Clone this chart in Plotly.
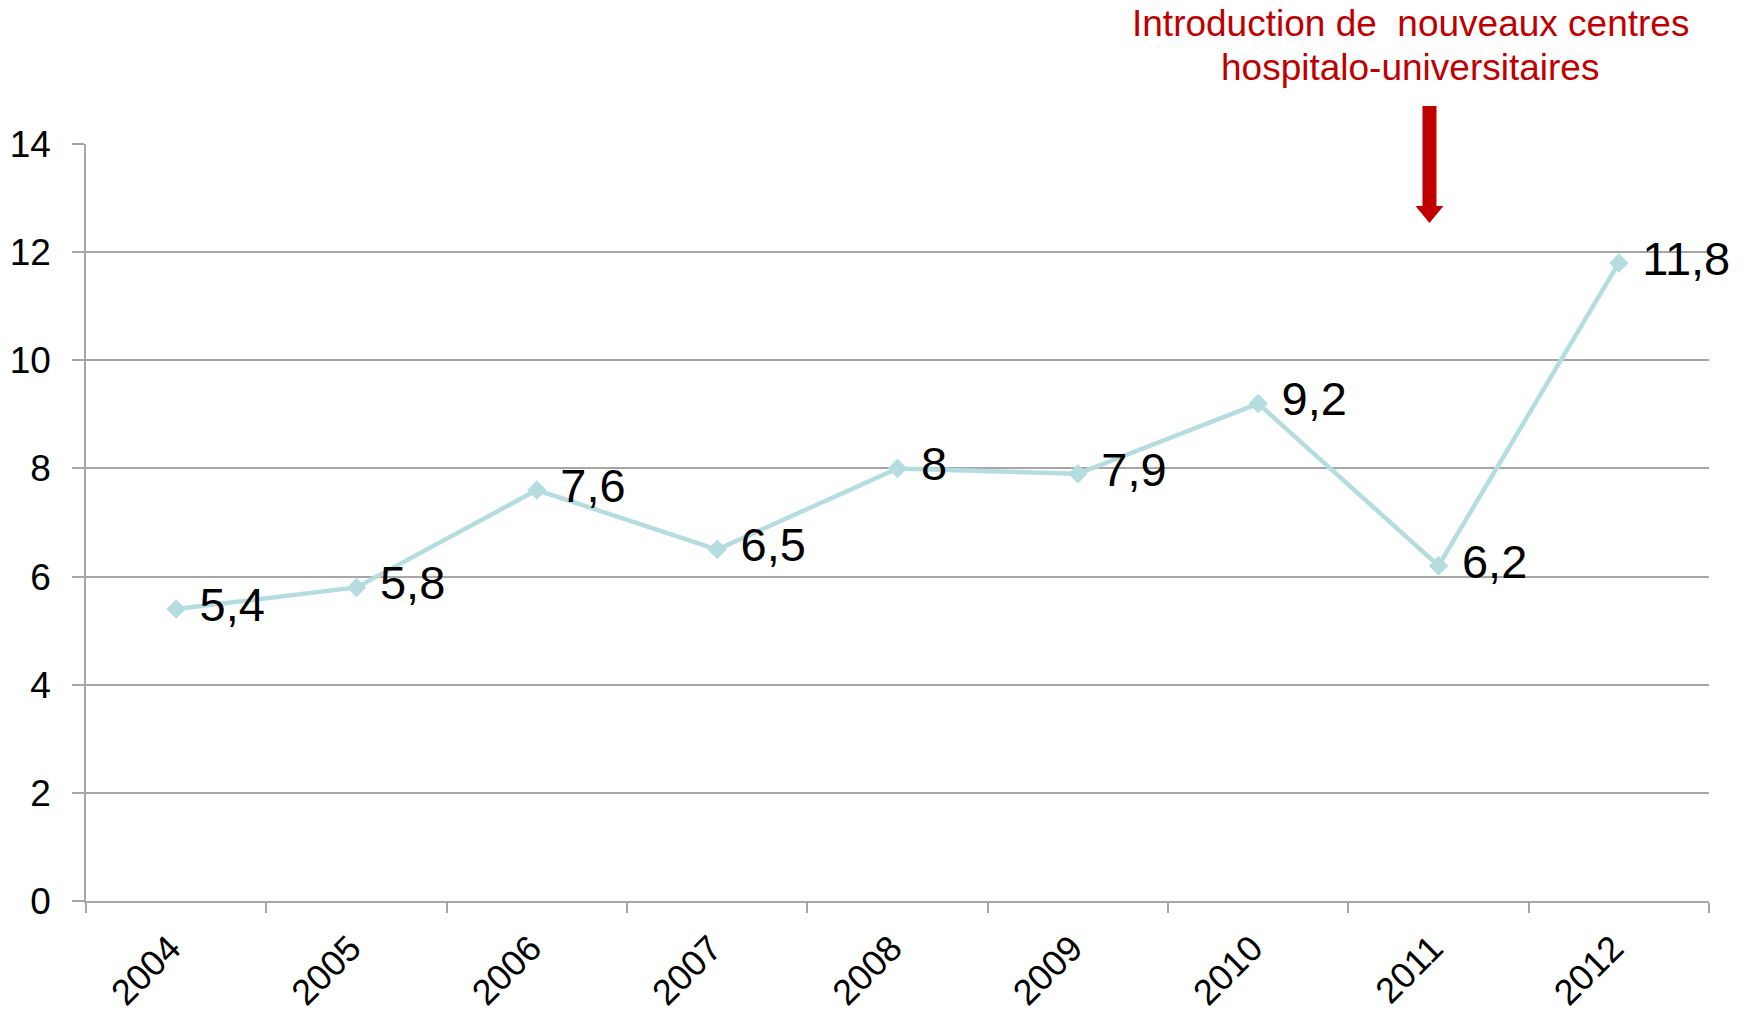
import plotly.graph_objects as go

years = ["2004", "2005", "2006", "2007", "2008", "2009", "2010", "2011", "2012"]
values = [5.4, 5.8, 7.6, 6.5, 8.0, 7.9, 9.2, 6.2, 11.8]
labels = ["\u00a0" + ("%g" % v).replace(".", ",") for v in values]
y_ticks = [0, 2, 4, 6, 8, 10, 12, 14]
note_lines = ["Introduction de  nouveaux centres", "hospitalo-universitaires"]

# arrow marker (decoration): category position and tip value
arrow_x = 6.95
arrow_tip = 12.54
y_max = 14

line_color = "#b5dde0"
grid_color = "#a6a6a6"
red = "#c00000"
font_family = "Liberation Sans, Arial, sans-serif"

fig = go.Figure()
fig.add_trace(go.Scatter(
    x=years, y=values, mode="lines+markers+text",
    line=dict(color=line_color, width=4.5),
    marker=dict(symbol="diamond", size=15, color=line_color),
    text=labels, textposition="middle right",
    textfont=dict(size=47, color="#000000", family=font_family),
    cliponaxis=False, showlegend=False, hoverinfo="skip",
))

# arrow: shaft + head, in pixel units anchored at the tip (paper y so it is not clipped)
tip_paper = arrow_tip / y_max
fig.add_shape(
    type="rect", xref="x", yref="paper",
    xsizemode="pixel", ysizemode="pixel",
    xanchor=arrow_x, yanchor=tip_paper,
    x0=-7, x1=7, y0=15, y1=117,
    fillcolor=red, line=dict(width=0), layer="above",
)
fig.add_shape(
    type="path", xref="x", yref="paper",
    xsizemode="pixel", ysizemode="pixel",
    xanchor=arrow_x, yanchor=tip_paper,
    path="M-14,17 L14,17 L0,0 Z",
    fillcolor=red, line=dict(width=0), layer="above",
)

for line_text, ypos in zip(note_lines, [1.1595, 1.1004]):
    fig.add_annotation(
        x=0.816, y=ypos, xref="paper", yref="paper",
        xanchor="center", yanchor="middle", showarrow=False,
        text=line_text,
        font=dict(size=37, color=red, family=font_family),
    )

fig.update_layout(
    width=1748, height=1017,
    margin=dict(l=78, r=47, t=136, b=124, autoexpand=False),
    paper_bgcolor="white", plot_bgcolor="white",
    font=dict(family=font_family, color="#000000"),
    xaxis=dict(
        type="category", tickson="boundaries", ticks="outside", ticklen=10,
        tickcolor=grid_color, tickwidth=1.5, showgrid=False,
        showline=True, linecolor=grid_color, linewidth=1.5,
        tickangle=-45, tickfont=dict(size=36, family=font_family),
        ticklabelstandoff=10, ticklabelshift=-6,
        range=[-0.5, 8.5], automargin=False,
    ),
    yaxis=dict(
        range=[0, y_max], tickvals=y_ticks, ticks="outside", ticklen=12,
        tickcolor=grid_color, tickwidth=1.5,
        showgrid=True, gridcolor=grid_color, gridwidth=1.5,
        showline=True, linecolor=grid_color, linewidth=1.5,
        zeroline=False, tickfont=dict(size=37, family=font_family),
        ticklabelstandoff=14, automargin=False,
    ),
)

fig.write_html("out.html")
